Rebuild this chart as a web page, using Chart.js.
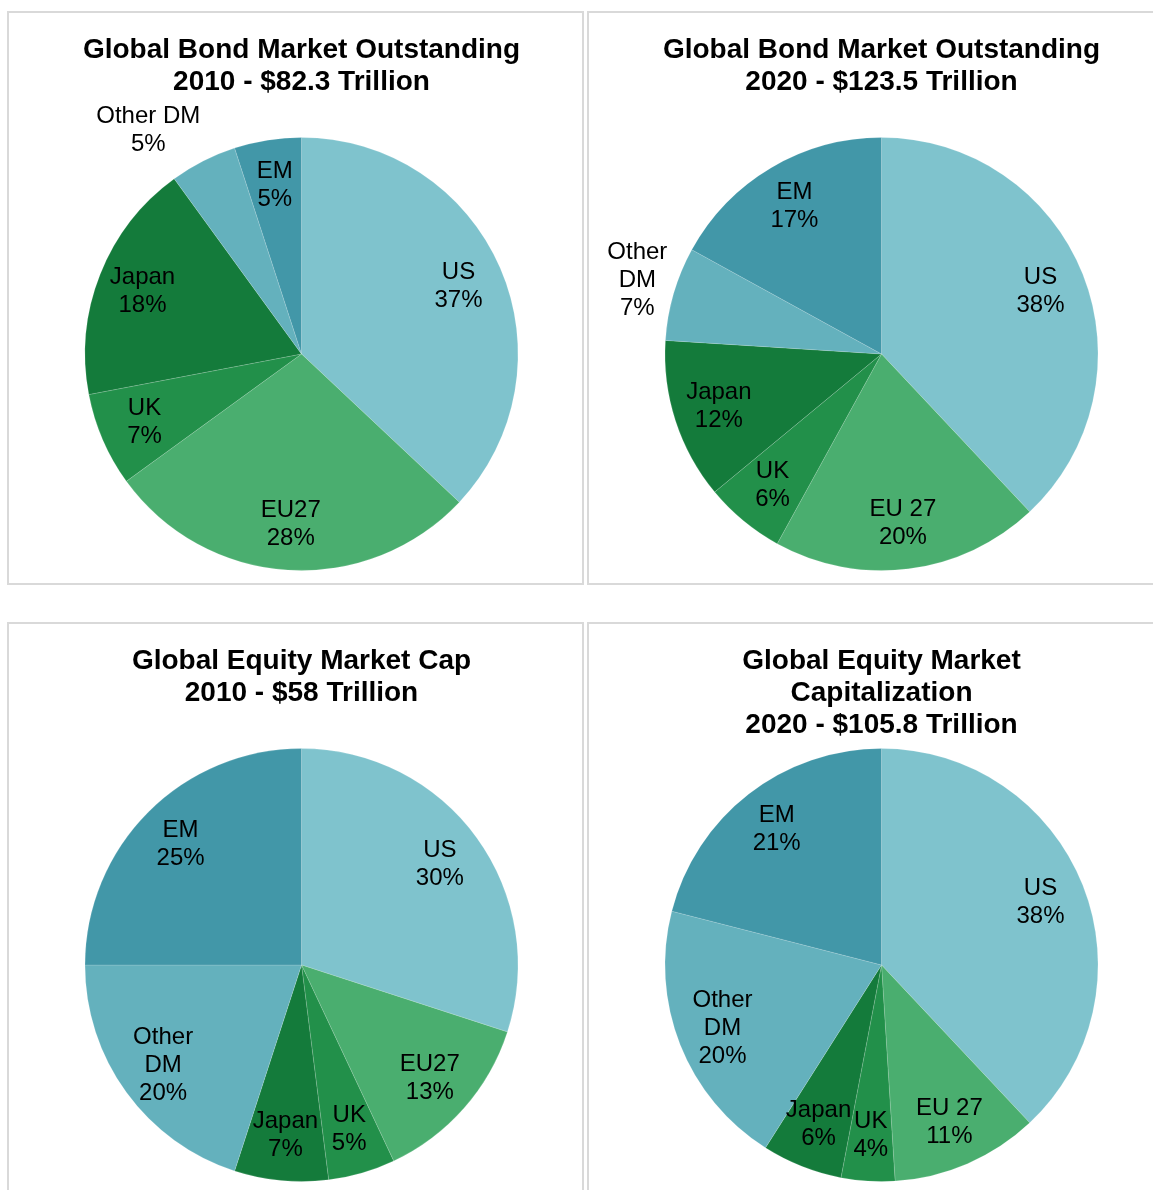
<!DOCTYPE html>
<html>
<head>
<meta charset="utf-8">
<script src="https://cdn.jsdelivr.net/npm/chart.js@4"></script>
<style>
  html, body { margin: 0; padding: 0; background: #fff; overflow: hidden; width: 1153px; height: 1190px; }
  .panel { position: absolute; width: 577px; height: 574px; border: 2px solid #d9d9d9; box-sizing: border-box; }
  .panel canvas { display: block; }
</style>
</head>
<body>
<div class="panel" style="left:7px;top:11px"><canvas id="bond2010"></canvas></div>
<div class="panel" style="left:587px;top:11px"><canvas id="bond2020"></canvas></div>
<div class="panel" style="left:7px;top:622px"><canvas id="equity2010"></canvas></div>
<div class="panel" style="left:587px;top:622px"><canvas id="equity2020"></canvas></div>
<script>
// data
const bondLabels2010 = ["US", "EU27", "UK", "Japan", "Other DM", "EM"];
const bondValues2010 = [37, 28, 7, 18, 5, 5];
const bondLabels2020 = ["US", "EU 27", "UK", "Japan", "Other\nDM", "EM"];
const bondValues2020 = [38, 20, 6, 12, 7, 17];
const equityLabels2010 = ["US", "EU27", "UK", "Japan", "Other\nDM", "EM"];
const equityValues2010 = [30, 13, 5, 7, 20, 25];
const equityLabels2020 = ["US", "EU 27", "UK", "Japan", "Other\nDM", "EM"];
const equityValues2020 = [38, 11, 4, 6, 20, 21];

const sliceColors = ["#7fc3cd", "#4aae6f", "#22904a", "#147b3b", "#64b1bd", "#4297a8"];

// draws "name / pct%" labels inside slices (or outside for flagged ones)
const sliceLabels = {
  id: "sliceLabels",
  afterDatasetsDraw(chart, args, opts) {
    const ctx = chart.ctx;
    const meta = chart.getDatasetMeta(0);
    const ds = chart.data.datasets[0];
    const outside = opts.outside || [];
    ctx.save();
    ctx.font = "24px 'Liberation Sans', Arial, sans-serif";
    ctx.fillStyle = "#000";
    ctx.textAlign = "center";
    ctx.textBaseline = "middle";
    const lh = 28;
    meta.data.forEach((arc, i) => {
      const lines = String(chart.data.labels[i]).split("\n");
      lines.push(ds.data[i] + "%");
      const mid = (arc.startAngle + arc.endAngle) / 2;
      const c = Math.cos(mid), s = Math.sin(mid);
      let cx, cy;
      if (outside.includes(i)) {
        const w = Math.max(...lines.map((l) => ctx.measureText(l).width));
        const h = lines.length * lh;
        const px = arc.x + c * arc.outerRadius * 1.03;
        const py = arc.y + s * arc.outerRadius * 1.03;
        cx = px + Math.sign(c) * w / 2;
        cy = py + s * h / 2;
      } else {
        cx = arc.x + c * arc.outerRadius * 0.79;
        cy = arc.y + s * arc.outerRadius * 0.79;
      }
      const top = cy - (lines.length - 1) * lh / 2;
      lines.forEach((l, k) => ctx.fillText(l, cx, top + k * lh));
    });
    ctx.restore();
  },
};

function makePie(id, labels, values, title, outside, padLeft) {
  const titleTop = 21;
  const titleBottom = 124 - titleTop - title.length * 32;
  new Chart(document.getElementById(id), {
    type: "pie",
    data: {
      labels: labels,
      datasets: [
        {
          data: values,
          backgroundColor: sliceColors,
          borderColor: "rgba(255,255,255,0.15)",
          borderWidth: 1,
        },
      ],
    },
    options: {
      responsive: true,
      maintainAspectRatio: false,
      animation: false,
      layout: { padding: { top: 0, bottom: 12, left: padLeft, right: 1 } },
      plugins: {
        legend: { display: false },
        tooltip: { enabled: false },
        title: {
          display: true,
          text: title,
          color: "#000",
          font: { family: "'Liberation Sans', Arial, sans-serif", size: 28, weight: "bold", lineHeight: 32 / 28 },
          padding: { top: titleTop, bottom: titleBottom },
        },
        sliceLabels: { outside: outside },
      },
    },
    plugins: [sliceLabels],
  });
}

makePie("bond2010", bondLabels2010, bondValues2010,
  ["Global Bond Market Outstanding", "2010 - $82.3 Trillion"], [4], 13);
makePie("bond2020", bondLabels2020, bondValues2020,
  ["Global Bond Market Outstanding", "2020 - $123.5 Trillion"], [4], 13);
makePie("equity2010", equityLabels2010, equityValues2010,
  ["Global Equity Market Cap", "2010 - $58 Trillion"], [], 13);
makePie("equity2020", equityLabels2020, equityValues2020,
  ["Global Equity Market", "Capitalization", "2020 - $105.8 Trillion"], [], 13);
</script>
</body>
</html>
